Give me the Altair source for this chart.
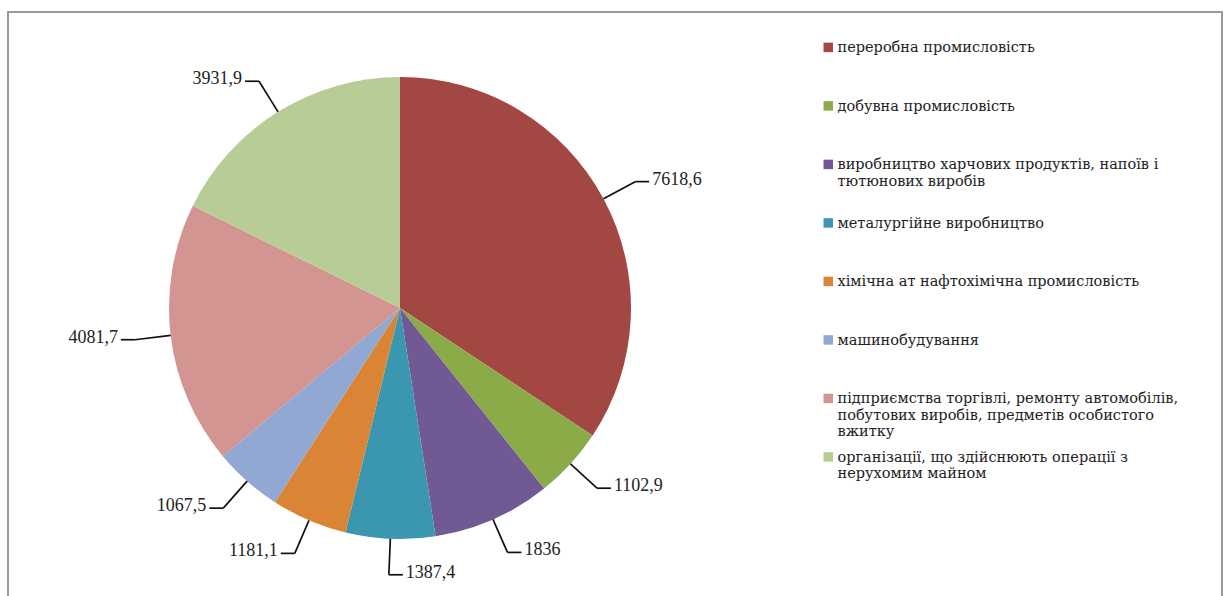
import json
import textwrap

import altair as alt
import pandas as pd

# Branch categories and their values
categories = [
    "переробна промисловість",
    "добувна промисловість",
    "виробництво харчових продуктів, напоїв і тютюнових виробів",
    "металургійне виробництво",
    "хімічна ат нафтохімічна промисловість",
    "машинобудування",
    "підприємства торгівлі, ремонту автомобілів, побутових виробів, предметів особистого вжитку",
    "організації, що здійснюють операції з нерухомим майном",
]
values = [7618.6, 1102.9, 1836, 1387.4, 1181.1, 1067.5, 4081.7, 3931.9]
colors = ["#A34743", "#8BAA48", "#715A94", "#3B97B0", "#DA8535", "#91A8D2", "#D39592", "#B8CC96"]

df = pd.DataFrame({"idx": list(range(len(values))), "category": categories, "value": values})

# Layout constants (pixels): pie radius, leader length, horizontal tail
R = 231
L = 36
T = 14
W, H = 1214, 588
CX, CY = 392, 296  # pie centre inside the view
SERIF = "Liberation Serif"
LEGEND_FONT = "DejaVu Serif"

x_scale = alt.Scale(domain=[-CX, W - CX], nice=False, zero=False)
y_scale = alt.Scale(domain=[CY - H, CY], nice=False, zero=False)

# Multi-line legend labels
wrap_expr = "datum.label"
for c in reversed(categories):
    lines = textwrap.wrap(c, 43)
    wrap_expr = f"datum.label == {json.dumps(c, ensure_ascii=False)} ? {json.dumps(lines, ensure_ascii=False)} : ({wrap_expr})"

# square legend swatch, lowered to sit on the first text line
swatch = "M-1,0.3L1,0.3L1,2.3L-1,2.3Z"

base = alt.Chart(df)

pie = base.mark_arc(radius=R).encode(
    theta=alt.Theta("value:Q", stack=True),
    order=alt.Order("idx:Q"),
    color=alt.Color(
        "category:N",
        scale=alt.Scale(domain=categories, range=colors),
        sort=categories,
        legend=alt.Legend(
            title=None,
            orient="none",
            legendX=813,
            legendY=22,
            direction="vertical",
            symbolType=swatch,
            symbolSize=90,
            symbolStrokeWidth=0,
            labelFont=LEGEND_FONT,
            labelFontSize=14.5,
            labelColor="#222222",
            labelBaseline="top",
            labelLimit=420,
            labelOffset=2,
            gridAlign="all",
            rowPadding=4.5,
            labelExpr=wrap_expr,
        ),
    ),
    x=alt.X(datum=0, scale=x_scale, axis=None),
    y=alt.Y(datum=0, scale=y_scale, axis=None),
)

leaders = (
    base.transform_window(cum="sum(value)", sort=[alt.SortField("idx")], frame=[None, 0])
    .transform_joinaggregate(total="sum(value)")
    .transform_calculate(ang="2*PI*(datum.cum - datum.value/2)/datum.total")
    # labels just past the bottom still go to the right
    .transform_calculate(side="sin(datum.ang) > -0.1 ? 1 : -1")
    .transform_calculate(
        x0=f"{R}*sin(datum.ang)",
        y0=f"{R}*cos(datum.ang)",
        x1=f"{R + L}*sin(datum.ang)",
        y1=f"{R + L}*cos(datum.ang)",
    )
    .transform_calculate(
        x2=f"datum.x1 + datum.side*{T}",
        lx=f"datum.x1 + datum.side*{T + 3}",
        lbl="replace(toString(datum.value), '.', ',')",
    )
)

radial = leaders.mark_rule(color="#111111", strokeWidth=1.7).encode(
    x=alt.X("x0:Q", scale=x_scale, axis=None),
    y=alt.Y("y0:Q", scale=y_scale, axis=None),
    x2="x1:Q",
    y2="y1:Q",
)
tail = leaders.mark_rule(color="#111111", strokeWidth=1.7).encode(
    x=alt.X("x1:Q", scale=x_scale, axis=None),
    y=alt.Y("y1:Q", scale=y_scale, axis=None),
    x2="x2:Q",
)

text_style = dict(font=SERIF, fontSize=18, color="#222222", baseline="middle", dy=-2)
labels_right = leaders.transform_filter("datum.side > 0").mark_text(align="left", **text_style).encode(
    x=alt.X("lx:Q", scale=x_scale, axis=None),
    y=alt.Y("y1:Q", scale=y_scale, axis=None),
    text="lbl:N",
)
labels_left = leaders.transform_filter("datum.side < 0").mark_text(align="right", **text_style).encode(
    x=alt.X("lx:Q", scale=x_scale, axis=None),
    y=alt.Y("y1:Q", scale=y_scale, axis=None),
    text="lbl:N",
)

# the frame runs past the bottom edge of the canvas
chart = (
    alt.layer(pie, radial, tail, labels_right, labels_left)
    .properties(
        width=W,
        height=H,
        padding={"left": 8, "top": 12, "right": 5, "bottom": -4},
        autosize=alt.AutoSizeParams(type="none"),
        background="white",
    )
    .configure_view(stroke="#9a9a9a", strokeWidth=2)
)

chart.save("out.html", embed_options={"renderer": "svg", "actions": False})
